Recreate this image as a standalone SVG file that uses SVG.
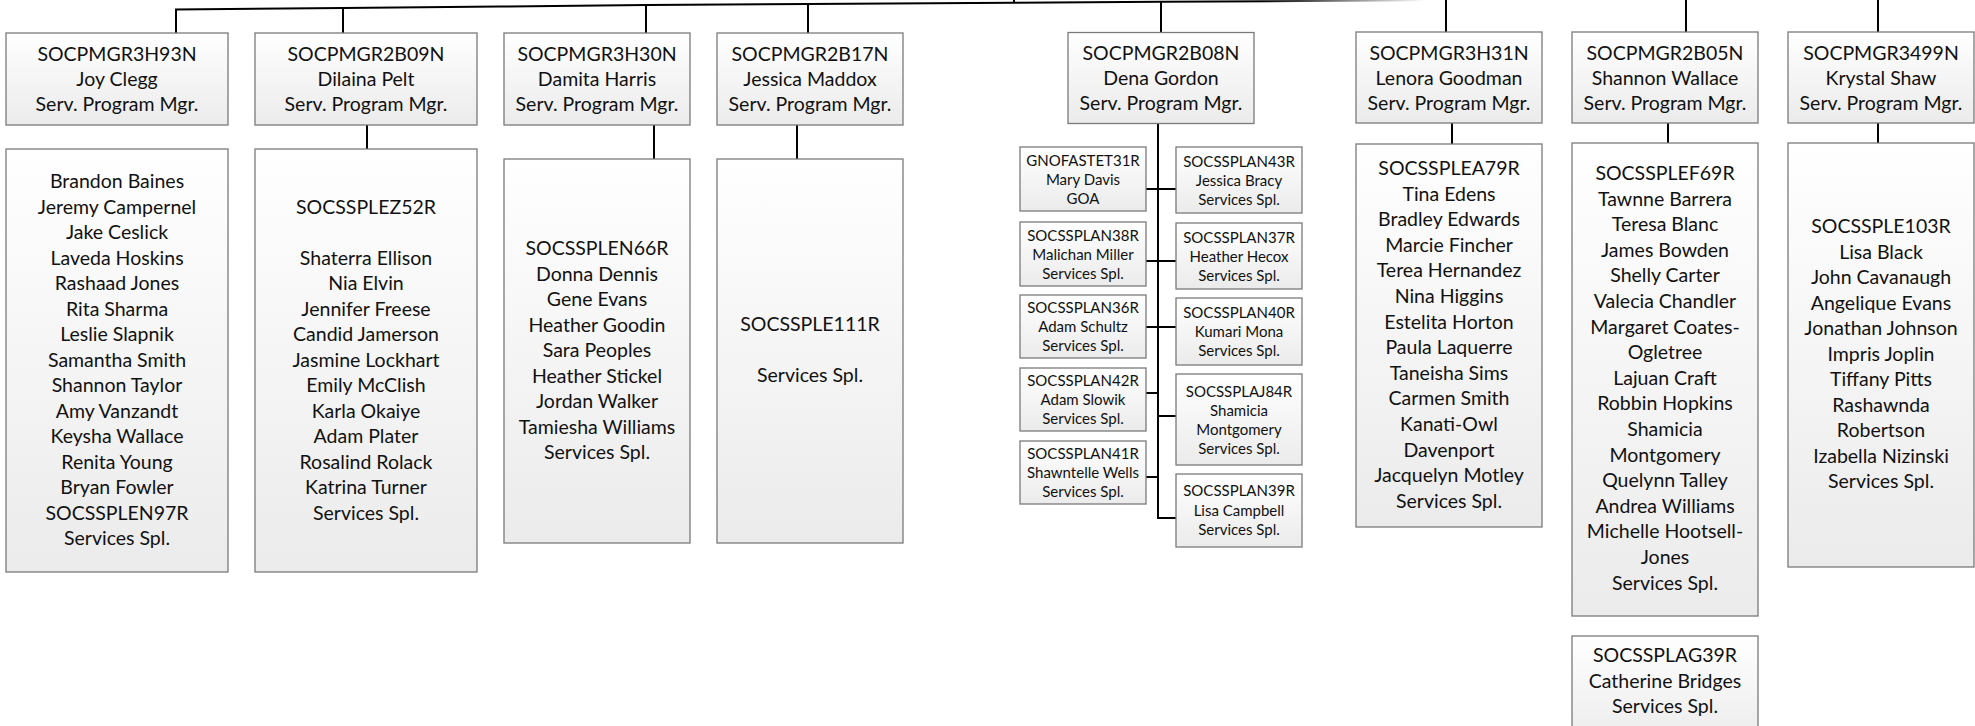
<svg xmlns="http://www.w3.org/2000/svg" width="1975" height="726" viewBox="0 0 1975 726">
<defs>
<linearGradient id="fill" x1="0" y1="0" x2="0" y2="1">
<stop offset="0" stop-color="#ffffff"/>
<stop offset="1" stop-color="#ebebeb"/>
</linearGradient>
<linearGradient id="fade" gradientUnits="userSpaceOnUse" x1="1260" y1="0" x2="1425" y2="0">
<stop offset="0" stop-color="#000000"/>
<stop offset="1" stop-color="#ffffff"/>
</linearGradient>
<style>
.box{fill:url(#fill);stroke:#7a7a7a;stroke-width:1.3}
.t{font-family:Lato,"Liberation Sans",sans-serif;font-size:19.5px;fill:#111;text-anchor:middle}
.ts{font-family:Lato,"Liberation Sans",sans-serif;font-size:15px;fill:#111;text-anchor:middle}
.conn{fill:none;stroke:#000;stroke-width:2}
</style>
</defs>
<rect width="1975" height="726" fill="#ffffff"/>
<g id="connectors">
<polyline points="175,9.5 343,8 500,6.5 646,5 808,4 1014,2.7 1161,1.8 1300,1 1425,0.3" fill="none" stroke="url(#fade)" stroke-width="2"/>
<line class="conn" x1="1014" y1="0" x2="1014" y2="3"/>
<line class="conn" x1="176" y1="9" x2="176" y2="33"/>
<line class="conn" x1="343" y1="8" x2="343" y2="33"/>
<line class="conn" x1="646" y1="5" x2="646" y2="33"/>
<line class="conn" x1="808" y1="4" x2="808" y2="33"/>
<line class="conn" x1="1161" y1="1.5" x2="1161" y2="32.5"/>
<line class="conn" x1="1446" y1="0" x2="1446" y2="32"/>
<line class="conn" x1="1686" y1="0" x2="1686" y2="32"/>
<line class="conn" x1="1878" y1="0" x2="1878" y2="32"/>
<line class="conn" x1="367" y1="125" x2="367" y2="149"/>
<line class="conn" x1="654" y1="125" x2="654" y2="159"/>
<line class="conn" x1="797" y1="125" x2="797" y2="159"/>
<line class="conn" x1="1452" y1="123" x2="1452" y2="144"/>
<line class="conn" x1="1668" y1="123" x2="1668" y2="143"/>
<line class="conn" x1="1878" y1="123" x2="1878" y2="143"/>
<line class="conn" x1="1158" y1="124" x2="1158" y2="518"/>
<line class="conn" x1="1146" y1="189" x2="1176" y2="189"/>
<line class="conn" x1="1146" y1="261" x2="1176" y2="261"/>
<line class="conn" x1="1146" y1="327" x2="1176" y2="327"/>
<line class="conn" x1="1146" y1="393" x2="1158" y2="393"/>
<line class="conn" x1="1158" y1="416" x2="1176" y2="416"/>
<line class="conn" x1="1146" y1="477" x2="1158" y2="477"/>
<line class="conn" x1="1157" y1="518" x2="1176" y2="518"/>
</g>
<g id="mgr-joy-clegg">
<rect class="box" x="6" y="33" width="222" height="92"/>
<text class="t"><tspan x="117" y="61">SOCPMGR3H93N</tspan><tspan x="117" y="86">Joy Clegg</tspan><tspan x="117" y="111">Serv. Program Mgr.</tspan></text>
</g>
<g id="mgr-dilaina-pelt">
<rect class="box" x="255" y="33" width="222" height="92"/>
<text class="t"><tspan x="366" y="61">SOCPMGR2B09N</tspan><tspan x="366" y="86">Dilaina Pelt</tspan><tspan x="366" y="111">Serv. Program Mgr.</tspan></text>
</g>
<g id="mgr-damita-harris">
<rect class="box" x="504" y="33" width="186" height="92"/>
<text class="t"><tspan x="597" y="61">SOCPMGR3H30N</tspan><tspan x="597" y="86">Damita Harris</tspan><tspan x="597" y="111">Serv. Program Mgr.</tspan></text>
</g>
<g id="mgr-jessica-maddox">
<rect class="box" x="717" y="33" width="186" height="92"/>
<text class="t"><tspan x="810" y="61">SOCPMGR2B17N</tspan><tspan x="810" y="86">Jessica Maddox</tspan><tspan x="810" y="111">Serv. Program Mgr.</tspan></text>
</g>
<g id="mgr-dena-gordon">
<rect class="box" x="1068" y="32.5" width="186" height="91"/>
<text class="t"><tspan x="1161" y="60">SOCPMGR2B08N</tspan><tspan x="1161" y="85">Dena Gordon</tspan><tspan x="1161" y="110">Serv. Program Mgr.</tspan></text>
</g>
<g id="mgr-lenora-goodman">
<rect class="box" x="1356" y="32" width="186" height="91"/>
<text class="t"><tspan x="1449" y="59.5">SOCPMGR3H31N</tspan><tspan x="1449" y="84.5">Lenora Goodman</tspan><tspan x="1449" y="109.5">Serv. Program Mgr.</tspan></text>
</g>
<g id="mgr-shannon-wallace">
<rect class="box" x="1572" y="32" width="186" height="91"/>
<text class="t"><tspan x="1665" y="59.5">SOCPMGR2B05N</tspan><tspan x="1665" y="84.5">Shannon Wallace</tspan><tspan x="1665" y="109.5">Serv. Program Mgr.</tspan></text>
</g>
<g id="mgr-krystal-shaw">
<rect class="box" x="1788" y="32" width="186" height="91"/>
<text class="t"><tspan x="1881" y="59.5">SOCPMGR3499N</tspan><tspan x="1881" y="84.5">Krystal Shaw</tspan><tspan x="1881" y="109.5">Serv. Program Mgr.</tspan></text>
</g>
<g id="team-joy-clegg">
<rect class="box" x="6" y="149" width="222" height="423"/>
<text class="t"><tspan x="117" y="188">Brandon Baines</tspan><tspan x="117" dy="25.5">Jeremy Campernel</tspan><tspan x="117" dy="25.5">Jake Ceslick</tspan><tspan x="117" dy="25.5">Laveda Hoskins</tspan><tspan x="117" dy="25.5">Rashaad Jones</tspan><tspan x="117" dy="25.5">Rita Sharma</tspan><tspan x="117" dy="25.5">Leslie Slapnik</tspan><tspan x="117" dy="25.5">Samantha Smith</tspan><tspan x="117" dy="25.5">Shannon Taylor</tspan><tspan x="117" dy="25.5">Amy Vanzandt</tspan><tspan x="117" dy="25.5">Keysha Wallace</tspan><tspan x="117" dy="25.5">Renita Young</tspan><tspan x="117" dy="25.5">Bryan Fowler</tspan><tspan x="117" dy="25.5">SOCSSPLEN97R</tspan><tspan x="117" dy="25.5">Services Spl.</tspan></text>
</g>
<g id="team-dilaina-pelt">
<rect class="box" x="255" y="149" width="222" height="423"/>
<text class="t"><tspan x="366" y="213.5">SOCSSPLEZ52R</tspan><tspan x="366" dy="51">Shaterra Ellison</tspan><tspan x="366" dy="25.5">Nia Elvin</tspan><tspan x="366" dy="25.5">Jennifer Freese</tspan><tspan x="366" dy="25.5">Candid Jamerson</tspan><tspan x="366" dy="25.5">Jasmine Lockhart</tspan><tspan x="366" dy="25.5">Emily McClish</tspan><tspan x="366" dy="25.5">Karla Okaiye</tspan><tspan x="366" dy="25.5">Adam Plater</tspan><tspan x="366" dy="25.5">Rosalind Rolack</tspan><tspan x="366" dy="25.5">Katrina Turner</tspan><tspan x="366" dy="25.5">Services Spl.</tspan></text>
</g>
<g id="team-damita-harris">
<rect class="box" x="504" y="159" width="186" height="384"/>
<text class="t"><tspan x="597" y="255">SOCSSPLEN66R</tspan><tspan x="597" dy="25.5">Donna Dennis</tspan><tspan x="597" dy="25.5">Gene Evans</tspan><tspan x="597" dy="25.5">Heather Goodin</tspan><tspan x="597" dy="25.5">Sara Peoples</tspan><tspan x="597" dy="25.5">Heather Stickel</tspan><tspan x="597" dy="25.5">Jordan Walker</tspan><tspan x="597" dy="25.5">Tamiesha Williams</tspan><tspan x="597" dy="25.5">Services Spl.</tspan></text>
</g>
<g id="team-jessica-maddox">
<rect class="box" x="717" y="159" width="186" height="384"/>
<text class="t"><tspan x="810" y="331">SOCSSPLE111R</tspan><tspan x="810" dy="51">Services Spl.</tspan></text>
</g>
<g id="gnofastet31r">
<rect class="box" x="1020" y="147" width="126" height="64"/>
<text class="ts"><tspan x="1083" y="165.5">GNOFASTET31R</tspan><tspan x="1083" dy="19">Mary Davis</tspan><tspan x="1083" dy="19">GOA</tspan></text>
</g>
<g id="socssplan38r">
<rect class="box" x="1020" y="222" width="126" height="64"/>
<text class="ts"><tspan x="1083" y="240.5">SOCSSPLAN38R</tspan><tspan x="1083" dy="19">Malichan Miller</tspan><tspan x="1083" dy="19">Services Spl.</tspan></text>
</g>
<g id="socssplan36r">
<rect class="box" x="1020" y="295" width="126" height="63"/>
<text class="ts"><tspan x="1083" y="313">SOCSSPLAN36R</tspan><tspan x="1083" dy="19">Adam Schultz</tspan><tspan x="1083" dy="19">Services Spl.</tspan></text>
</g>
<g id="socssplan42r">
<rect class="box" x="1020" y="368" width="126" height="63"/>
<text class="ts"><tspan x="1083" y="386">SOCSSPLAN42R</tspan><tspan x="1083" dy="19">Adam Slowik</tspan><tspan x="1083" dy="19">Services Spl.</tspan></text>
</g>
<g id="socssplan41r">
<rect class="box" x="1020" y="441" width="126" height="63"/>
<text class="ts"><tspan x="1083" y="459">SOCSSPLAN41R</tspan><tspan x="1083" dy="19">Shawntelle Wells</tspan><tspan x="1083" dy="19">Services Spl.</tspan></text>
</g>
<g id="socssplan43r">
<rect class="box" x="1176" y="147" width="126" height="66"/>
<text class="ts"><tspan x="1239" y="166.5">SOCSSPLAN43R</tspan><tspan x="1239" dy="19">Jessica Bracy</tspan><tspan x="1239" dy="19">Services Spl.</tspan></text>
</g>
<g id="socssplan37r">
<rect class="box" x="1176" y="223" width="126" height="66"/>
<text class="ts"><tspan x="1239" y="242.5">SOCSSPLAN37R</tspan><tspan x="1239" dy="19">Heather Hecox</tspan><tspan x="1239" dy="19">Services Spl.</tspan></text>
</g>
<g id="socssplan40r">
<rect class="box" x="1176" y="298" width="126" height="67"/>
<text class="ts"><tspan x="1239" y="318">SOCSSPLAN40R</tspan><tspan x="1239" dy="19">Kumari Mona</tspan><tspan x="1239" dy="19">Services Spl.</tspan></text>
</g>
<g id="socssplaj84r">
<rect class="box" x="1176" y="374" width="126" height="91"/>
<text class="ts"><tspan x="1239" y="396.5">SOCSSPLAJ84R</tspan><tspan x="1239" dy="19">Shamicia</tspan><tspan x="1239" dy="19">Montgomery</tspan><tspan x="1239" dy="19">Services Spl.</tspan></text>
</g>
<g id="socssplan39r">
<rect class="box" x="1176" y="474" width="126" height="73"/>
<text class="ts"><tspan x="1239" y="496">SOCSSPLAN39R</tspan><tspan x="1239" dy="19.5">Lisa Campbell</tspan><tspan x="1239" dy="19.5">Services Spl.</tspan></text>
</g>
<g id="team-lenora-goodman">
<rect class="box" x="1356" y="144" width="186" height="383"/>
<text class="t"><tspan x="1449" y="175">SOCSSPLEA79R</tspan><tspan x="1449" dy="25.6">Tina Edens</tspan><tspan x="1449" dy="25.6">Bradley Edwards</tspan><tspan x="1449" dy="25.6">Marcie Fincher</tspan><tspan x="1449" dy="25.6">Terea Hernandez</tspan><tspan x="1449" dy="25.6">Nina Higgins</tspan><tspan x="1449" dy="25.6">Estelita Horton</tspan><tspan x="1449" dy="25.6">Paula Laquerre</tspan><tspan x="1449" dy="25.6">Taneisha Sims</tspan><tspan x="1449" dy="25.6">Carmen Smith</tspan><tspan x="1449" dy="25.6">Kanati-Owl</tspan><tspan x="1449" dy="25.6">Davenport</tspan><tspan x="1449" dy="25.6">Jacquelyn Motley</tspan><tspan x="1449" dy="25.6">Services Spl.</tspan></text>
</g>
<g id="team-shannon-wallace">
<rect class="box" x="1572" y="143" width="186" height="473"/>
<text class="t"><tspan x="1665" y="180">SOCSSPLEF69R</tspan><tspan x="1665" dy="25.6">Tawnne Barrera</tspan><tspan x="1665" dy="25.6">Teresa Blanc</tspan><tspan x="1665" dy="25.6">James Bowden</tspan><tspan x="1665" dy="25.6">Shelly Carter</tspan><tspan x="1665" dy="25.6">Valecia Chandler</tspan><tspan x="1665" dy="25.6">Margaret Coates-</tspan><tspan x="1665" dy="25.6">Ogletree</tspan><tspan x="1665" dy="25.6">Lajuan Craft</tspan><tspan x="1665" dy="25.6">Robbin Hopkins</tspan><tspan x="1665" dy="25.6">Shamicia</tspan><tspan x="1665" dy="25.6">Montgomery</tspan><tspan x="1665" dy="25.6">Quelynn Talley</tspan><tspan x="1665" dy="25.6">Andrea Williams</tspan><tspan x="1665" dy="25.6">Michelle Hootsell-</tspan><tspan x="1665" dy="25.6">Jones</tspan><tspan x="1665" dy="25.6">Services Spl.</tspan></text>
</g>
<g id="socssplag39r">
<rect class="box" x="1572" y="636" width="186" height="110"/>
<text class="t"><tspan x="1665" y="662">SOCSSPLAG39R</tspan><tspan x="1665" dy="25.5">Catherine Bridges</tspan><tspan x="1665" dy="25.5">Services Spl.</tspan></text>
</g>
<g id="team-krystal-shaw">
<rect class="box" x="1788" y="143" width="186" height="424"/>
<text class="t"><tspan x="1881" y="233">SOCSSPLE103R</tspan><tspan x="1881" dy="25.5">Lisa Black</tspan><tspan x="1881" dy="25.5">John Cavanaugh</tspan><tspan x="1881" dy="25.5">Angelique Evans</tspan><tspan x="1881" dy="25.5">Jonathan Johnson</tspan><tspan x="1881" dy="25.5">Impris Joplin</tspan><tspan x="1881" dy="25.5">Tiffany Pitts</tspan><tspan x="1881" dy="25.5">Rashawnda</tspan><tspan x="1881" dy="25.5">Robertson</tspan><tspan x="1881" dy="25.5">Izabella Nizinski</tspan><tspan x="1881" dy="25.5">Services Spl.</tspan></text>
</g>
</svg>
